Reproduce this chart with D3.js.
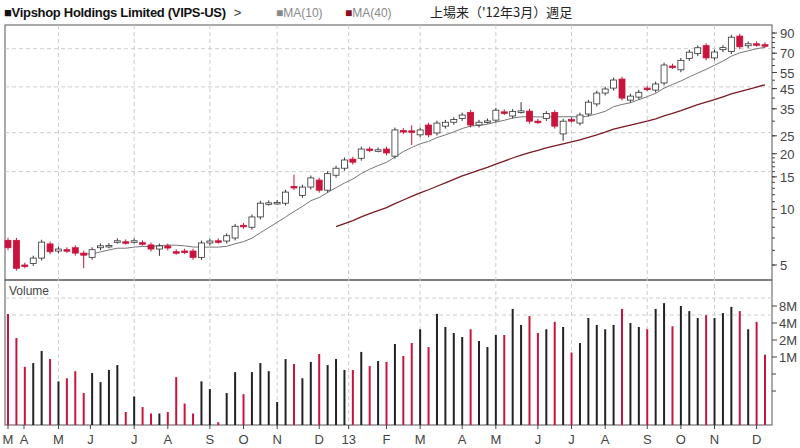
<!DOCTYPE html>
<html><head><meta charset="utf-8">
<script src="https://cdn.jsdelivr.net/npm/d3@7"></script>
<style>
body{margin:0;background:#fff;font-family:"Liberation Sans",Arial,sans-serif;}
</style></head>
<body><svg id="chart" width="800" height="448"></svg>
<script>
// weekly candles, Mar 2012 - Dec 2013
var opens =[6.8,6.8,5.0,5.1,5.45,6.5,5.95,6.05,6.2,5.8,5.5,6.2,6.35,6.72,6.68,6.74,6.6,6.42,6.1,6.34,5.9,5.95,5.95,5.5,6.58,6.76,6.74,7.0,8.2,8.0,9.1,10.8,10.9,10.8,13.3,11.9,13.2,14.4,12.7,15.3,16.7,18.7,18.9,21.2,21.0,21.2,19.4,26.7,26.6,25.3,28.6,25.9,28.2,29.6,31.0,33.5,28.6,30.0,30.4,33.7,32.0,34.0,34.0,30.0,31.0,33.4,25.6,30.6,29.3,32.8,37.2,42.6,45.3,50.7,39.0,40.5,45.3,44.2,48.3,59.6,56.9,65.6,69.6,76.9,66.0,73.1,71.5,86.6,76.8,78.7,77.8];
var closes=[6.2,4.8,4.95,5.45,6.65,5.9,6.1,6.0,5.8,5.65,6.05,6.35,6.38,6.76,6.64,6.76,6.56,6.1,6.34,6.18,5.86,5.9,5.5,6.58,6.74,6.72,7.2,8.1,8.1,9.1,10.8,10.85,10.9,12.4,13.1,13.2,14.8,12.7,15.6,16.7,18.5,18.0,21.2,21.0,21.0,20.2,26.9,26.4,26.3,26.9,25.3,29.3,29.6,30.6,32.4,28.6,29.6,30.1,34.4,33.4,33.9,34.1,30.0,29.9,33.0,28.2,30.0,30.4,32.4,38.0,42.6,44.8,50.1,40.0,41.0,43.0,45.0,47.7,60.4,59.2,64.0,70.9,74.9,66.0,71.0,75.0,85.4,75.8,78.7,78.2,77.3];
// long wicks only where visible, others get a small default
var wickHi={34:15.4,48:28.5,61:38.0,86:88};
var wickLo={9:4.8,18:5.6,48:22.3,66:23.5,2:4.8};
var volumes=[5.77,2.17,0.67,0.78,1.28,0.92,0.37,0.42,0.56,0.23,0.52,0.36,0.59,0.72,0.106,0.2,0.13,0.1,0.1,0.106,0.44,0.15,0.1,0.37,0.27,0.07,0.23,0.54,0.22,0.54,0.78,0.56,0.16,0.92,0.75,
0.42,0.82,1.13,0.72,0.92,0.59,0.59,1.23,0.69,0.85,0.82,1.7,1.04,1.77,3.1,1.5,5.8,3.4,2.66,2.26,3.1,1.92,1.5,2.45,
2.45,7.1,3.7,5.3,2.66,3.1,4.2,3.4,1.2,1.77,4.9,3.7,3.1,3.7,7.1,4.0,3.4,3.1,7.1,9.0,3.5,8.0,6.5,4.9,5.5,4.9,6.0,7.7,6.5,3.1,4.2,1.1];
var monthLabels=["M","A","M","J","J","A","S","O","N","D","13","F","M","A","M","J","J","A","S","O","N","D"];
var monthPos=[0,1.9,6,9.8,15,19,24,28,32,37,40.5,45,49,54,58,63,67,71,76,80,84,89];
var gridMonths=[6,15,24,32,40.5,49,58,67,76,84];
var priceTicks=[5,10,15,20,25,35,45,55,70,90];
var priceGrid=[16,26,46,74];
var volTicks=[1,2,4,8];
var volTickLabels=["1M","2M","4M","8M"];

var svg=d3.select("#chart");
var RED="#c8143c",BLK="#222";
var left=5,right=772,pTop=25,pBot=280,vTop=283,vBot=425;
var x=d3.scaleLinear().domain([0,90]).range([8,765]);
var y=d3.scaleLog().domain([5,90]).range([265,33]);
var yv=d3.scaleLog().base(2).domain([1/16,8]).range([425,306]);

function ma(n){
	var r=[];
	for(var i=n-1;i<closes.length;i++){
		r.push({i:i,v:d3.mean(closes.slice(i-n+1,i+1))});
	}
	return r;
}
// title
var t=svg.append("text").attr("x",4).attr("y",17).attr("font-size",13);
t.append("tspan").attr("font-weight","bold").attr("fill","#111").attr("letter-spacing","-0.3").text("■Vipshop Holdings Limited (VIPS-US)");
t.append("tspan").attr("fill","#333").attr("dx",8).text(">");
svg.append("text").attr("x",276).attr("y",17).attr("font-size",12).attr("fill","#888").text("■MA(10)");
svg.append("text").attr("x",345).attr("y",17).attr("font-size",12).attr("fill","#888")
	.call(function(s){s.append("tspan").attr("fill","#8b0f1e").text("■");s.append("tspan").text("MA(40)");});
svg.append("text").attr("x",430).attr("y",17).attr("font-size",13).attr("fill","#222").attr("font-family","Noto Sans CJK JP").text("上場来（'12年3月）週足");

// frames
svg.append("rect").attr("x",left).attr("y",pTop).attr("width",right-left).attr("height",vBot-pTop).attr("fill","none").attr("stroke","#555");
svg.append("line").attr("x1",left).attr("x2",right).attr("y1",pBot).attr("y2",pBot).attr("stroke","#555").attr("stroke-width",1.5);
svg.append("text").attr("x",9).attr("y",295).attr("font-size",12).attr("fill","#444").text("Volume");

// grids
var g=svg.append("g").attr("stroke","#ccc").attr("stroke-dasharray","4,3");
gridMonths.forEach(function(m){
	g.append("line").attr("x1",x(m)).attr("x2",x(m)).attr("y1",pTop).attr("y2",vBot);
});
priceGrid.forEach(function(p){
	g.append("line").attr("x1",left).attr("x2",right).attr("y1",y(p)).attr("y2",y(p));
});
[8,4].forEach(function(v){
	g.append("line").attr("x1",left).attr("x2",right).attr("y1",yv(v)-8).attr("y2",yv(v)-8);
});

// right axes
var ax=svg.append("g");
for(var p=5;p<=90;p+=(p<20?1:5)){
	ax.append("line").attr("x1",right).attr("x2",right+3).attr("y1",y(p)).attr("y2",y(p)).attr("stroke","#444");
}
priceTicks.forEach(function(p){
	ax.append("line").attr("x1",right).attr("x2",right+5).attr("y1",y(p)).attr("y2",y(p)).attr("stroke","#444");
	ax.append("text").attr("x",780).attr("y",y(p)+5).attr("font-size",13).attr("fill","#444").text(p);
});
volTicks.forEach(function(v,k){
	ax.append("line").attr("x1",right).attr("x2",right+5).attr("y1",yv(v)).attr("y2",yv(v)).attr("stroke","#444");
	ax.append("text").attr("x",779).attr("y",yv(v)+5).attr("font-size",13).attr("fill","#444").text(volTickLabels[k]);
});
[0.5,0.25].forEach(function(v){
	ax.append("line").attr("x1",right).attr("x2",right+4).attr("y1",yv(v)).attr("y2",yv(v)).attr("stroke","#444");
});
monthLabels.forEach(function(m,k){
	ax.append("line").attr("x1",x(monthPos[k])).attr("x2",x(monthPos[k])).attr("y1",vBot).attr("y2",vBot+4).attr("stroke","#444");
	ax.append("text").attr("x",x(monthPos[k])).attr("y",444).attr("text-anchor","middle").attr("font-size",13).attr("fill","#444").text(m);
});

// MA lines
var line=d3.line().x(function(d){return x(d.i);}).y(function(d){return y(d.v);});
svg.append("path").attr("d",line(ma(10))).attr("fill","none").attr("stroke","#777").attr("stroke-width",1);
svg.append("path").attr("d",line(ma(40))).attr("fill","none").attr("stroke","#7a1a22").attr("stroke-width",1.3);

// candles
var data=opens.map(function(o,i){
	var c=closes[i];
	return {i:i,o:o,c:c,hi:wickHi[i]||Math.max(o,c)*1.03,lo:wickLo[i]||Math.min(o,c)*0.97,up:c>=o,v:volumes[i]};
});
var cg=svg.append("g").selectAll("g").data(data).enter().append("g");
cg.append("line").attr("x1",function(d){return x(d.i);}).attr("x2",function(d){return x(d.i);})
	.attr("y1",function(d){return y(d.hi);}).attr("y2",function(d){return y(d.lo);})
	.attr("stroke",function(d){return d.up?"#333":RED;});
cg.append("rect").attr("x",function(d){return x(d.i)-3;}).attr("width",6)
	.attr("y",function(d){return y(Math.max(d.o,d.c));})
	.attr("height",function(d){return Math.max(1.5,y(Math.min(d.o,d.c))-y(Math.max(d.o,d.c)));})
	.attr("fill",function(d){return d.up?"#fff":RED;})
	.attr("stroke",function(d){return d.up?"#333":RED;}).attr("stroke-width",0.8);

// volume
svg.append("g").selectAll("line").data(data).enter().append("line")
	.attr("x1",function(d){return x(d.i);}).attr("x2",function(d){return x(d.i);})
	.attr("y1",vBot).attr("y2",function(d){return yv(d.v);})
	.attr("stroke",function(d){return d.up?BLK:RED;}).attr("stroke-width",2);
</script></body></html>
